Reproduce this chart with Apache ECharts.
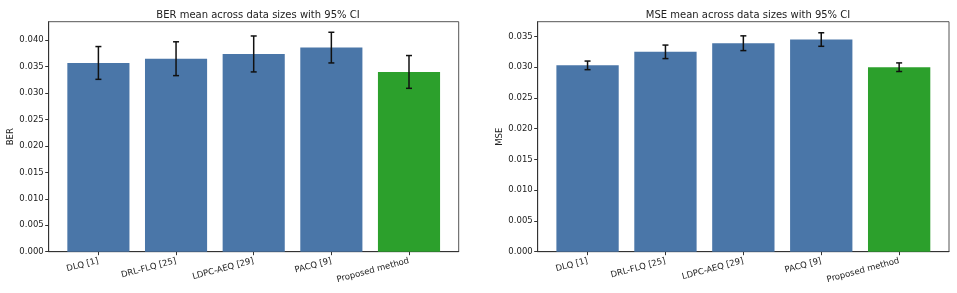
<!DOCTYPE html>
<html>
<head>
<meta charset="utf-8">
<script src="https://cdn.jsdelivr.net/npm/echarts@6.0.0/dist/echarts.min.js"></script>
<style>
  html, body { margin: 0; padding: 0; background: #fff; }
  #chart { width: 957px; height: 293px; }
</style>
</head>
<body>
<div id="chart"></div>
<script>
// categories
const methods = ['DLQ [1]', 'DRL-FLQ [25]', 'LDPC-AEQ [29]', 'PACQ [9]', 'Proposed method'];

// BER means and 95% CI half-widths
const berMean = [0.0357, 0.0365, 0.0374, 0.0386, 0.0340];
const berCI   = [0.0031, 0.0032, 0.0034, 0.0029, 0.0031];

// MSE means and 95% CI half-widths
const mseMean = [0.0303, 0.0325, 0.0339, 0.0345, 0.0300];
const mseCI   = [0.0007, 0.0011, 0.0012, 0.0011, 0.0007];

// tick labels
const berTicks = [0, 0.005, 0.010, 0.015, 0.020, 0.025, 0.030, 0.035, 0.040];
const mseTicks = [0, 0.005, 0.010, 0.015, 0.020, 0.025, 0.030, 0.035];
const catTicks = [0, 1, 2, 3, 4];

const BLUE = '#4a76a8';
const GREEN = '#2ca02c';
const barColors = [BLUE, BLUE, BLUE, BLUE, GREEN];
const FONT = 'DejaVu Sans';
const TEXT = '#222';

const chart = echarts.init(document.getElementById('chart'));

// bar drawn from x-0.4 to x+0.4, like matplotlib width 0.8
function renderBar(params, api) {
    const x = api.value(0), y = api.value(1);
    const p0 = api.coord([x - 0.4, y]);
    const p1 = api.coord([x + 0.4, 0]);
    return {
        type: 'rect',
        shape: { x: p0[0], y: p0[1], width: p1[0] - p0[0], height: p1[1] - p0[1] },
        style: { fill: barColors[params.dataIndex] }
    };
}

function renderErr(params, api) {
    const x = api.value(0), m = api.value(1), e = api.value(2);
    const hi = api.coord([x, m + e]);
    const lo = api.coord([x, m - e]);
    const cap = 3;
    const st = { stroke: '#111', lineWidth: 1.5 };
    return {
        type: 'group',
        children: [
            { type: 'line', shape: { x1: hi[0], y1: hi[1], x2: lo[0], y2: lo[1] }, style: st },
            { type: 'line', shape: { x1: hi[0] - cap, y1: hi[1], x2: hi[0] + cap, y2: hi[1] }, style: st },
            { type: 'line', shape: { x1: lo[0] - cap, y1: lo[1], x2: lo[0] + cap, y2: lo[1] }, style: st }
        ]
    };
}

function xAxisFor(gi) {
    return {
        type: 'value', gridIndex: gi, min: -0.64, max: 4.64,
        axisLine: { show: true, onZero: false, lineStyle: { color: '#333', width: 1 } },
        axisTick: { show: true, customValues: catTicks, length: 3.5, lineStyle: { color: '#333' } },
        axisLabel: {
            customValues: catTicks, rotate: 15, margin: 9,
            fontFamily: FONT, fontSize: 8.5, color: TEXT,
            formatter: v => methods[Math.round(v)]
        },
        splitLine: { show: false }
    };
}

function yAxisFor(gi, name, max, ticks) {
    return {
        type: 'value', gridIndex: gi, min: 0, max: max,
        name: name, nameLocation: 'middle', nameGap: 32, nameRotate: 90,
        nameTextStyle: { fontFamily: FONT, fontSize: 8.5, color: TEXT },
        axisLine: { show: true, onZero: false, lineStyle: { color: '#333', width: 1 } },
        axisTick: { show: true, customValues: ticks, length: 3.5, lineStyle: { color: '#333' } },
        axisLabel: {
            customValues: ticks, margin: 5,
            fontFamily: FONT, fontSize: 8.5, color: TEXT,
            formatter: v => v.toFixed(3)
        },
        splitLine: { show: false }
    };
}

function barData(vals) {
    return vals.map((v, i) => [i, v]);
}
function errData(vals, ci) {
    return vals.map((v, i) => [i, v, ci[i]]);
}

const titleStyle = { fontFamily: FONT, fontSize: 10, fontWeight: 'normal', color: TEXT };

chart.setOption({
    animation: false,
    title: [
        { text: 'BER mean across data sizes with 95% CI', left: 253, top: 5, textAlign: 'center', textStyle: titleStyle },
        { text: 'MSE mean across data sizes with 95% CI', left: 743, top: 5, textAlign: 'center', textStyle: titleStyle }
    ],
    grid: [
        { left: 48.7, right: 498.3, top: 21.7, bottom: 41.3, show: true, borderColor: '#555', borderWidth: 1 },
        { left: 537.7, right: 8, top: 21.7, bottom: 41.3, show: true, borderColor: '#555', borderWidth: 1 }
    ],
    xAxis: [xAxisFor(0), xAxisFor(1)],
    yAxis: [
        yAxisFor(0, 'BER', 0.0435, berTicks),
        yAxisFor(1, 'MSE', 0.0374, mseTicks)
    ],
    series: [
        { type: 'custom', xAxisIndex: 0, yAxisIndex: 0, renderItem: renderBar, data: barData(berMean), z: 2 },
        { type: 'custom', xAxisIndex: 0, yAxisIndex: 0, renderItem: renderErr, data: errData(berMean, berCI), z: 3 },
        { type: 'custom', xAxisIndex: 1, yAxisIndex: 1, renderItem: renderBar, data: barData(mseMean), z: 2 },
        { type: 'custom', xAxisIndex: 1, yAxisIndex: 1, renderItem: renderErr, data: errData(mseMean, mseCI), z: 3 }
    ]
});
</script>
</body>
</html>
